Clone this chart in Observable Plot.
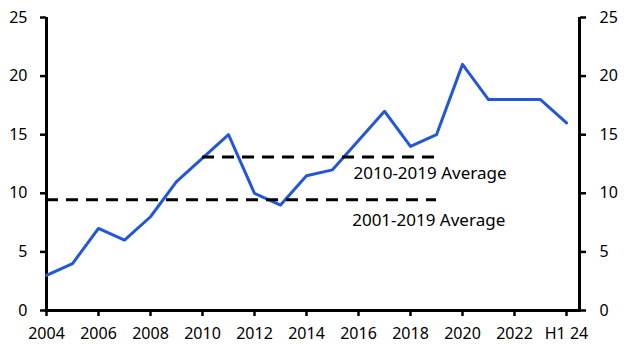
<!DOCTYPE html>
<html>
<head>
<meta charset="utf-8">
<script src="https://cdn.jsdelivr.net/npm/d3@7"></script>
<script src="https://cdn.jsdelivr.net/npm/@observablehq/plot@0.6"></script>
<style>
  html, body { margin: 0; padding: 0; background: #fff; }
  #chart { width: 631px; height: 350px; }
</style>
</head>
<body>
<div id="chart"></div>
<script>
// ---- Data ----
const years = [2004, 2005, 2006, 2007, 2008, 2009, 2010, 2011, 2012, 2013, 2014,
               2015, 2016, 2017, 2018, 2019, 2020, 2021, 2022, 2023, 2024];
const values = [3, 4, 7, 6, 8, 11, 13, 15, 10, 9, 11.5,
                12, 14.5, 17, 14, 15, 21, 18, 18, 18, 16];

const avgLabels = ["2010-2019 Average", "2001-2019 Average"];
const avgValues = [13.1, 9.45];
const avgStart = [2010, 2004];
const avgEnd = [2019, 2019];

const xTickValues = [2004, 2006, 2008, 2010, 2012, 2014, 2016, 2018, 2020, 2022, 2024];
const xTickLabels = ["2004", "2006", "2008", "2010", "2012", "2014", "2016", "2018", "2020", "2022", "H1 24"];
const yTickValues = [0, 5, 10, 15, 20, 25];

// ---- Build ----
const series = years.map((yr, i) => ({year: yr, value: values[i]}));
const averages = avgLabels.map((label, i) => ({label, value: avgValues[i], start: avgStart[i], end: avgEnd[i]}));
const xDomain = [2004, 2024.5];
const yDomain = [0, 25];
const labelX = [2018.75, 2018.7];
const labelY = [11.7, 7.7];

const font = "'Noto Sans', sans-serif";
const blue = "#2457d6";

const chart = Plot.plot({
  width: 631,
  height: 350,
  marginLeft: 46,
  marginRight: 52,
  marginTop: 17,
  marginBottom: 40,
  style: {fontFamily: font, fontSize: "16px", color: "#000", background: "#fff", overflow: "visible"},
  x: {domain: xDomain},
  y: {domain: yDomain},
  marks: [
    Plot.axisY({anchor: "left", ticks: yTickValues, tickSize: 6, tickPadding: 13, strokeWidth: 2.5, fontSize: 16, label: null}),
    Plot.axisY({anchor: "right", ticks: yTickValues, tickSize: 6, tickPadding: 14, strokeWidth: 2.5, fontSize: 16, label: null}),
    Plot.axisX({anchor: "bottom", ticks: xTickValues, tickFormat: d => xTickLabels[xTickValues.indexOf(d)], tickSize: 6, tickPadding: 11, strokeWidth: 2.5, fontSize: 16, label: null}),
    Plot.ruleX(xDomain, {stroke: "#000", strokeWidth: 3}),
    Plot.ruleY([yDomain[0]], {stroke: "#000", strokeWidth: 3, strokeLinecap: "square"}),
    Plot.line(series, {x: "year", y: "value", stroke: blue, strokeWidth: 3}),
    Plot.ruleY(averages, {y: "value", x1: "start", x2: "end", stroke: "#000", strokeWidth: 3, strokeDasharray: "12,8"}),
    Plot.text(averages, {x: (d, i) => labelX[i], y: (d, i) => labelY[i], text: "label", fontSize: 17, textAnchor: "middle", fill: "#000"})
  ]
});
document.getElementById("chart").appendChild(chart);
</script>
</body>
</html>
